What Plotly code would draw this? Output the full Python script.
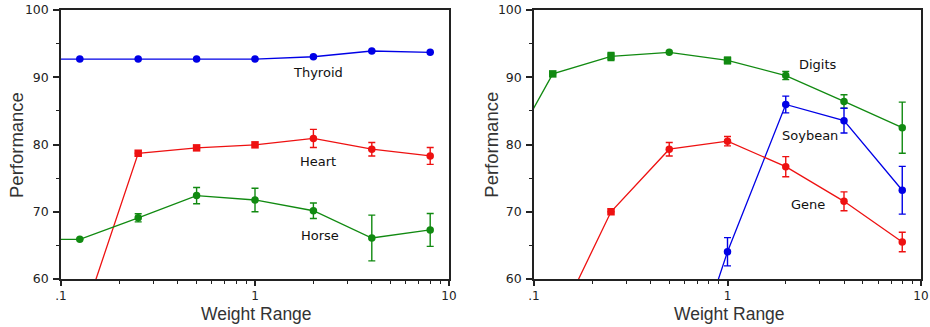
import numpy as np
import plotly.graph_objects as go

# ---------------- data ----------------
weight_range = [0.0625, 0.125, 0.25, 0.5, 1, 2, 4, 8]

# left panel
thyroid = [92.7, 92.7, 92.7, 92.7, 92.7, 93.05, 93.9, 93.7]
thyroid_err = [0, 0, 0, 0, 0, 0, 0, 0]
heart = [None, 52.8, 78.7, 79.5, 79.95, 80.9, 79.3, 78.3]
heart_err = [0, 0, 0, 0, 0, 1.35, 1.0, 1.25]
horse = [65.9, 65.9, 69.1, 72.4, 71.75, 70.15, 66.1, 67.3]
horse_err = [0, 0, 0.6, 1.2, 1.75, 1.15, 3.4, 2.45]

# right panel
digits = [74.9, 90.5, 93.1, 93.7, 92.5, 90.25, 86.4, 82.5]
digits_err = [0, 0, 0.6, 0, 0.5, 0.6, 1.0, 3.8]
soybean = [None, None, None, 38.0, 64.05, 85.95, 83.55, 73.2]
soybean_err = [0, 0, 0, 0, 2.1, 1.25, 1.85, 3.55]
gene = [None, 52.0, 70.0, 79.3, 80.5, 76.7, 71.55, 65.5]
gene_err = [0, 0, 0, 1.0, 0.7, 1.5, 1.4, 1.45]

x_tickvals = [0.1, 1, 10]
x_ticktext = [".1", "1", "10"]
y_tickvals = [60, 70, 80, 90, 100]

labels_left = ["Thyroid", "Heart", "Horse"]
labels_left_x = [2.11, 2.11, 2.17]
labels_left_y = [90.7, 77.4, 66.5]
labels_right = ["Digits", "Soybean", "Gene"]
labels_right_x = [2.93, 2.67, 2.62]
labels_right_y = [91.9, 81.3, 71.1]

# ---------------- styles ----------------
BLUE = "#0000e6"
RED = "#ee1111"
GREEN = "#118a11"
AXIS = "#222222"

heart_sym = ["circle", "circle", "square", "square", "square", "circle", "circle", "circle"]
digits_sym = ["circle", "square", "square", "circle", "square", "circle", "circle", "circle"]
gene_sym = ["circle", "circle", "square", "circle", "circle", "circle", "circle", "circle"]

fig = go.Figure()


def add(y, err, color, xa, ya, sym="circle"):
    fig.add_trace(go.Scatter(
        x=weight_range, y=y, mode="lines+markers",
        line=dict(color=color, width=1.3),
        marker=dict(color=color, size=7.5, symbol=sym),
        error_y=dict(type="data", array=err, visible=True, color=color,
                     thickness=1.4, width=3.5),
        xaxis=xa, yaxis=ya, showlegend=False, connectgaps=False,
    ))


add(thyroid, thyroid_err, BLUE, "x", "y")
add(heart, heart_err, RED, "x", "y", heart_sym)
add(horse, horse_err, GREEN, "x", "y")

add(digits, digits_err, GREEN, "x2", "y2", digits_sym)
add(soybean, soybean_err, BLUE, "x2", "y2")
add(gene, gene_err, RED, "x2", "y2", gene_sym)

tickfont = dict(family="DejaVu Sans", size=12.5, color=AXIS)
xtickfont = dict(family="DejaVu Sans", size=12, color=AXIS)
minor_x = [d * 10.0 ** e for e in (-1, 0) for d in range(2, 10)]

xcommon = dict(
    type="log", range=[-1, 1], tickvals=x_tickvals, ticktext=x_ticktext,
    ticks="outside", ticklen=5, tickwidth=1.5, tickcolor=AXIS,
    showline=True, linecolor=AXIS, linewidth=1.5, mirror=True,
    showgrid=False, zeroline=False, tickfont=xtickfont, automargin=False,
    ticklabelstandoff=0,
    minor=dict(tickvals=minor_x, ticks="outside", ticklen=3, tickwidth=1.3,
               tickcolor=AXIS, showgrid=False),
)
ycommon = dict(
    range=[60, 100], tickvals=y_tickvals,
    ticks="outside", ticklen=6, tickwidth=1.5, tickcolor=AXIS,
    showline=True, linecolor=AXIS, linewidth=1.5, mirror=True,
    showgrid=False, zeroline=False, tickfont=tickfont, ticklabelstandoff=2,
    automargin=False,
    minor=dict(dtick=5, ticks="outside", ticklen=3, tickwidth=1.3,
               tickcolor=AXIS, showgrid=False),
)

ydom = [1 - 279 / 327, 1 - 10 / 327]
fig.update_layout(
    width=930, height=327,
    margin=dict(l=0, r=0, t=0, b=0, autoexpand=False),
    paper_bgcolor="white", plot_bgcolor="white",
    xaxis=dict(domain=[61 / 930, 449 / 930], anchor="y", **xcommon),
    yaxis=dict(domain=ydom, anchor="x", **ycommon),
    xaxis2=dict(domain=[534 / 930, 921 / 930], anchor="y2", **xcommon),
    yaxis2=dict(domain=ydom, anchor="x2", **ycommon),
)

ann = []
for t, xv, yv in zip(labels_left, labels_left_x, labels_left_y):
    ann.append(dict(text=t, x=np.log10(xv), y=yv, xref="x", yref="y",
                    showarrow=False, font=dict(family="DejaVu Sans", size=13, color="#111")))
for t, xv, yv in zip(labels_right, labels_right_x, labels_right_y):
    ann.append(dict(text=t, x=np.log10(xv), y=yv, xref="x2", yref="y2",
                    showarrow=False, font=dict(family="DejaVu Sans", size=13, color="#111")))

title_font_x = dict(family="Liberation Sans", size=17.5, color="#333")
title_font_y = dict(family="Liberation Sans", size=18.5, color="#333")
for cx in (256 / 930, 729 / 930):
    ann.append(dict(text="Weight Range", x=cx, y=1 - 313.5 / 327, xref="paper", yref="paper",
                    showarrow=False, font=title_font_x, xanchor="center", yanchor="middle"))
for cx in (17 / 930, 491.7 / 930):
    ann.append(dict(text="Performance", x=cx, y=1 - 145 / 327, xref="paper", yref="paper",
                    showarrow=False, font=title_font_y, textangle=-90,
                    xanchor="center", yanchor="middle"))
fig.update_layout(annotations=ann)

fig.write_html("out.html")
